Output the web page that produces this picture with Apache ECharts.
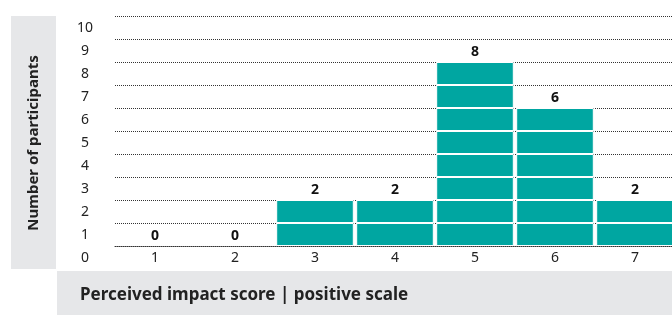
<!DOCTYPE html>
<html>
<head>
<meta charset="utf-8">
<script src="https://cdn.jsdelivr.net/npm/echarts@6/dist/echarts.min.js"></script>
<style>
  html, body { margin: 0; padding: 0; background: #fff; }
  #chart { width: 672px; height: 315px; }
</style>
</head>
<body>
<div id="chart"></div>
<script>
// data
var scores = ['1', '2', '3', '4', '5', '6', '7'];
var participants = [0, 0, 2, 2, 8, 6, 2];
var yTicks = [0, 1, 2, 3, 4, 5, 6, 7, 8, 9, 10];
var yName = 'Number of participants';
var xName = 'Perceived impact score | positive scale';

var teal = '#00a6a1';
var font = '"Noto Sans", "Open Sans", sans-serif';

// one stacked block per unit so the white rule shows between units
var blocks = [];
for (let k = 0; k < yTicks[yTicks.length - 1]; k++) {
    blocks.push({
        type: 'bar',
        stack: 'units',
        barCategoryGap: '3%',
        barGap: '-100%',
        itemStyle: { color: teal, borderColor: '#fff', borderWidth: 1 },
        data: participants.map(function (v) { return v > k ? 1 : '-'; }),
        z: 2
    });
}

var chartobj = echarts.init(document.getElementById('chart'));
var option = {
    animation: false,
    textStyle: { fontFamily: font },
    grid: { left: 115, width: 560, top: 16, height: 230, outerBoundsMode: 'none', containLabel: false },
    xAxis: {
        type: 'category',
        data: scores,
        z: 10,
        axisLine: { lineStyle: { color: '#333', type: 'dotted', width: 1 } },
        axisTick: { show: false },
        axisLabel: { color: '#222', fontSize: 14, margin: 5 }
    },
    yAxis: {
        type: 'value',
        min: yTicks[0],
        max: yTicks[yTicks.length - 1],
        interval: 1,
        axisLine: { show: false },
        axisTick: { show: false },
        splitLine: { lineStyle: { color: '#333', type: 'dotted', width: 1 } },
        axisLabel: {
            color: '#222', fontSize: 14, align: 'center', margin: 30,
            verticalAlign: 'top', padding: [5, 0, 0, 0]
        }
    },
    graphic: [
        {
            type: 'rect', left: 11, top: 16,
            shape: { width: 45, height: 253 },
            style: { fill: '#e6e7e9' }, z: -1
        },
        {
            type: 'text', x: 34, y: 143, rotation: Math.PI / 2,
            style: {
                text: yName, fill: '#222', font: 'bold 15px ' + font,
                align: 'center', verticalAlign: 'middle'
            }
        },
        {
            type: 'rect', left: 57, top: 271,
            shape: { width: 620, height: 44 },
            style: { fill: '#e6e7e9' }, z: -1
        },
        {
            type: 'text', x: 80, y: 295,
            style: {
                text: xName, fill: '#222', font: 'bold 17px ' + font,
                align: 'left', verticalAlign: 'middle'
            }
        }
    ],
    series: blocks.concat([{
        type: 'bar',
        barCategoryGap: '3%',
        barGap: '-100%',
        itemStyle: { color: 'rgba(0,0,0,0)' },
        label: {
            show: true, position: 'top', distance: 3,
            color: '#111', fontWeight: 'bold', fontSize: 14, fontFamily: font
        },
        data: participants,
        z: 3
    }])
};
chartobj.setOption(option);
</script>
</body>
</html>
